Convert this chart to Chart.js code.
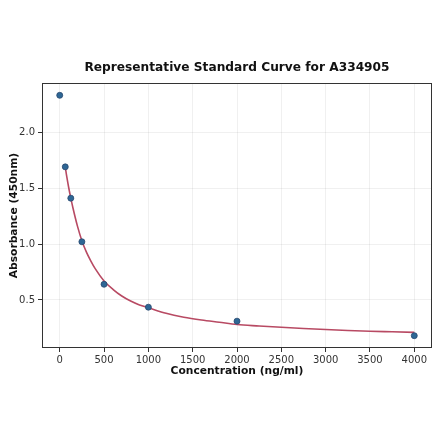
<!DOCTYPE html>
<html>
<head>
<meta charset="utf-8">
<script src="https://cdn.jsdelivr.net/npm/chart.js@4/dist/chart.umd.min.js"></script>
<style>
html,body{margin:0;padding:0;background:#fff;}
#wrap{width:440px;height:441px;position:relative;}
</style>
</head>
<body>
<div id="wrap"><canvas id="c" width="440" height="441"></canvas></div>
<script>
const chartTitle = 'Representative Standard Curve for A334905';
const concentrations = [0, 62.5, 125, 250, 500, 1000, 2000, 4000];
const absorbance = [2.33, 1.69, 1.41, 1.02, 0.64, 0.435, 0.31, 0.18];
const curveX = [62.5, 80, 100, 125, 150, 200, 250, 300, 350, 400, 500, 600, 700, 800, 900, 1000, 1200, 1400, 1600, 1800, 2000, 2250, 2500, 2750, 3000, 3250, 3500, 3750, 4000];
const curveY = [1.69, 1.60, 1.51, 1.41, 1.32, 1.16, 1.03, 0.93, 0.85, 0.78, 0.67, 0.595, 0.535, 0.49, 0.455, 0.43, 0.38, 0.345, 0.32, 0.30, 0.28, 0.267, 0.255, 0.244, 0.235, 0.227, 0.22, 0.215, 0.21];
const xTicks = [0, 500, 1000, 1500, 2000, 2500, 3000, 3500, 4000];
const yTicks = [0.5, 1.0, 1.5, 2.0];

const pts = concentrations.map((x, i) => ({x: x, y: absorbance[i]}));
const curve = curveX.map((x, i) => ({x: x, y: curveY[i]}));

const frame = {
  id: 'frame',
  afterDraw(chart) {
    const a = chart.chartArea, ctx = chart.ctx;
    ctx.save();
    ctx.strokeStyle = '#333';
    ctx.lineWidth = 1;
    ctx.strokeRect(a.left + 0.5, a.top + 0.5, a.right - a.left - 1, a.bottom - a.top - 1);
    ctx.fillStyle = '#111';
    ctx.font = 'bold 12.2px "DejaVu Sans"';
    ctx.textAlign = 'center';
    ctx.textBaseline = 'middle';
    ctx.fillText(chartTitle, (a.left + a.right) / 2, 68);
    ctx.restore();
  }
};

Chart.defaults.font.family = 'DejaVu Sans';
new Chart(document.getElementById('c'), {
  type: 'scatter',
  data: {
    datasets: [
      {
        data: curve,
        showLine: true,
        borderColor: '#b84a63',
        borderWidth: 1.6,
        pointRadius: 0,
        cubicInterpolationMode: 'monotone',
        order: 2
      },
      {
        data: pts,
        backgroundColor: '#2e6795',
        borderColor: '#28486e',
        borderWidth: 0.8,
        pointRadius: 3,
        order: 1
      }
    ]
  },
  options: {
    responsive: false,
    animation: false,
    devicePixelRatio: 1,
    layout: {padding: {left: 0, right: 8, top: 83, bottom: 63}},
    plugins: {
      legend: {display: false},
      tooltip: {enabled: false},
      title: {display: false}
    },
    scales: {
      x: {
        type: 'linear',
        min: -200,
        max: 4200,
        afterBuildTicks(s) { s.ticks = xTicks.map(v => ({value: v})); },
        afterFit(s) { s.height = 30; },
        ticks: {color: '#333', font: {size: 10}, padding: 2, maxRotation: 0, callback: v => String(v)},
        grid: {color: 'rgba(0,0,0,0.06)', tickColor: '#333', tickLength: 4},
        border: {display: false},
        title: {display: true, text: 'Concentration (ng/ml)', color: '#111', font: {size: 10.7, weight: 'bold'}, padding: {top: 1, bottom: 0}}
      },
      y: {
        type: 'linear',
        min: 0.07,
        max: 2.44,
        afterBuildTicks(s) { s.ticks = yTicks.map(v => ({value: v})); },
        afterFit(s) { s.width = 42; },
        ticks: {color: '#333', font: {size: 10}, padding: 3, callback: v => v.toFixed(1)},
        grid: {color: 'rgba(0,0,0,0.06)', tickColor: '#333', tickLength: 4},
        border: {display: false},
        title: {display: true, text: 'Absorbance (450nm)', color: '#111', font: {size: 10.7, weight: 'bold'}, padding: {top: 8, bottom: 4}}
      }
    }
  },
  plugins: [frame]
});
</script>
</body>
</html>
